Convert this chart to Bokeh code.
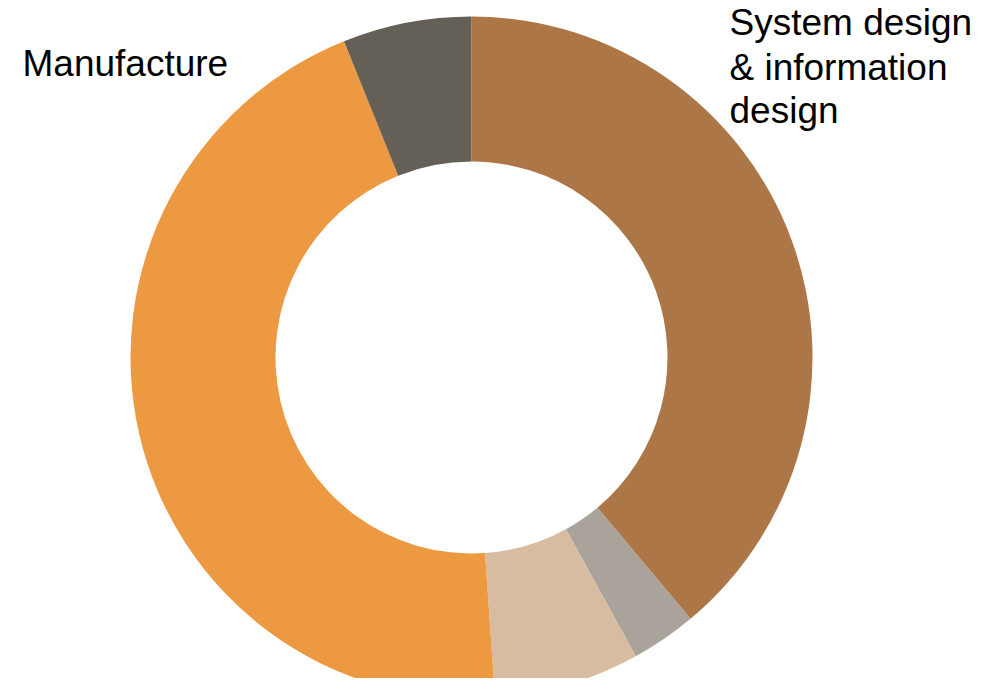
import math
from bokeh.plotting import figure
from bokeh.models import Range1d, ColumnDataSource
from bokeh.core.properties import value
from bokeh.embed import file_html
from bokeh.resources import INLINE

# Data (percent shares, clockwise from 12 o'clock)
categories = ["System design & information design", "Segment 2", "Segment 3", "Manufacture", "Segment 5"]
shares = [38.9, 3.1, 6.9, 45.0, 6.1]
colors = ["#AD7646", "#A9A39B", "#D8BCA2", "#EC9941", "#656057"]

label_lines_right = ["System design", "& information", "design"]
label_left = ["Manufacture"]

total = sum(shares)
starts, ends = [], []
acc = 0.0
for s in shares:
    starts.append(math.pi / 2 - acc / total * 2 * math.pi)
    acc += s
    ends.append(math.pi / 2 - acc / total * 2 * math.pi)

src = ColumnDataSource(dict(cat=categories, share=shares, color=colors, start=starts, end=ends))

W, H = 971, 678
p = figure(width=W, height=H, output_backend="svg", toolbar_location=None,
           x_range=Range1d(0, W), y_range=Range1d(0, H),
           min_border=0, outline_line_color=None)
p.axis.visible = False
p.grid.visible = False
p.background_fill_color = "white"
p.border_fill_color = "white"

cx, cy = 471, 321
p.annular_wedge(x=cx, y=cy, inner_radius=196, outer_radius=341,
                start_angle="start", end_angle="end", direction="clock",
                fill_color="color", line_color=None, source=src)

font = value("Liberation Sans")
p.text(x=[729] * 3, y=[656, 611, 568], text=label_lines_right,
       text_font=font, text_font_size="37px", text_color="#000000",
       text_baseline="alphabetic", text_align="left")
p.text(x=[22], y=[615], text=label_left,
       text_font=font, text_font_size="37px", text_color="#000000",
       text_baseline="alphabetic", text_align="left")

open("out.html", "w").write(file_html(p, INLINE))
